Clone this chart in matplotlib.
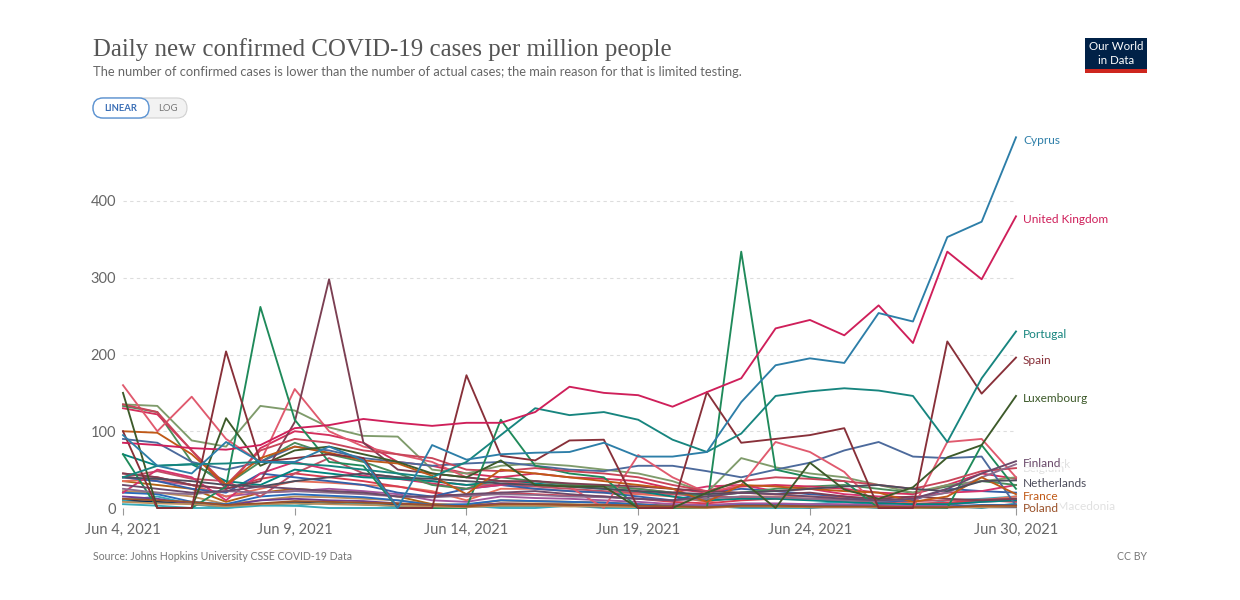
import matplotlib
matplotlib.use("Agg")
import matplotlib.pyplot as plt
from matplotlib.patches import FancyBboxPatch, Rectangle
import pandas as pd

# ---------------- data ----------------
dates = pd.date_range("2021-06-04", "2021-06-30", freq="D")
tick_dates = ["2021-06-04", "2021-06-09", "2021-06-14", "2021-06-19", "2021-06-24", "2021-06-30"]
tick_labels = ["Jun 4, 2021", "Jun 9, 2021", "Jun 14, 2021", "Jun 19, 2021", "Jun 24, 2021", "Jun 30, 2021"]
y_ticks = [0, 100, 200, 300, 400]

cyprus = [95, 55, 45, 86, 60, 60, 80, 62, 0, 82, 63, 70, 72, 73, 85, 67, 67, 73, 138, 186, 195, 189, 254, 243, 353, 373, 483]
united_kingdom = [85, 82, 78, 76, 82, 104, 108, 116, 111, 107, 111, 111, 125, 158, 150, 147, 132, 151, 169, 234, 245, 225, 264, 215, 334, 298, 380]
portugal = [40, 55, 57, 58, 60, 58, 55, 50, 45, 40, 60, 95, 130, 121, 125, 115, 89, 73, 97, 146, 152, 156, 153, 146, 86, 169, 230]
spain = [100, 0, 0, 204, 60, 65, 70, 65, 0, 0, 173, 68, 62, 88, 89, 0, 0, 151, 85, 90, 95, 104, 0, 0, 217, 149, 196]
luxembourg = [150, 0, 0, 117, 55, 75, 80, 70, 60, 45, 40, 62, 30, 28, 28, 0, 0, 20, 36, 0, 59, 24, 12, 27, 66, 82, 146]
finland = [30, 25, 20, 22, 28, 25, 22, 20, 15, 15, 18, 20, 22, 18, 15, 12, 10, 15, 20, 18, 15, 12, 10, 12, 25, 45, 61]
denmark = [25, 20, 18, 22, 20, 22, 20, 18, 15, 14, 16, 18, 17, 15, 14, 12, 10, 12, 15, 14, 12, 10, 9, 12, 20, 40, 57]
belgium = [135, 125, 75, 30, 75, 90, 85, 75, 70, 65, 50, 48, 52, 48, 45, 40, 30, 22, 35, 40, 38, 35, 30, 25, 35, 48, 52]
netherlands = [40, 38, 35, 30, 28, 35, 40, 45, 40, 38, 35, 32, 30, 28, 25, 22, 20, 18, 20, 22, 25, 28, 30, 25, 22, 35, 36]
france = [100, 98, 70, 30, 65, 80, 72, 62, 58, 42, 18, 50, 45, 40, 35, 30, 25, 8, 30, 28, 25, 22, 20, 8, 15, 40, 18]
poland = [12, 10, 8, 4, 6, 9, 8, 7, 6, 4, 2, 5, 5, 4, 4, 3, 2, 1, 3, 3, 2, 2, 2, 1, 1, 3, 3]
north_macedonia = [8, 6, 5, 2, 5, 6, 5, 4, 3, 2, 1, 3, 3, 2, 2, 1, 1, 0, 2, 2, 1, 1, 1, 0, 1, 1, 2]
sweden = [70, 0, 0, 28, 262, 115, 60, 55, 0, 0, 0, 115, 55, 45, 40, 0, 0, 0, 334, 50, 40, 35, 0, 0, 0, 82, 25]
lithuania = [45, 40, 30, 25, 35, 112, 298, 85, 50, 45, 40, 35, 35, 32, 30, 28, 25, 22, 20, 18, 20, 15, 12, 15, 12, 10, 12]
ireland = [160, 100, 145, 90, 60, 155, 100, 80, 70, 60, 40, 35, 30, 28, 0, 69, 40, 20, 30, 86, 73, 47, 0, 0, 86, 90, 40]
greece = [90, 85, 60, 50, 60, 80, 75, 65, 60, 55, 58, 60, 55, 50, 48, 55, 55, 48, 40, 50, 59, 75, 86, 67, 65, 67, 3]
switzerland = [135, 133, 88, 80, 133, 127, 105, 94, 93, 50, 45, 55, 58, 55, 50, 45, 35, 20, 65, 53, 45, 40, 30, 20, 30, 35, 40]
estonia = [133, 125, 60, 30, 60, 85, 70, 60, 45, 30, 25, 40, 35, 30, 28, 25, 20, 15, 20, 25, 28, 30, 25, 20, 28, 35, 30]
croatia = [130, 122, 75, 25, 78, 100, 95, 85, 60, 55, 45, 40, 45, 40, 38, 35, 25, 20, 28, 30, 28, 25, 20, 18, 30, 45, 38]
germany = [45, 40, 30, 25, 38, 45, 40, 35, 28, 20, 15, 20, 18, 16, 15, 12, 8, 6, 10, 12, 11, 10, 8, 5, 7, 10, 8]
italy = [35, 38, 30, 15, 25, 35, 33, 30, 28, 22, 10, 25, 25, 22, 20, 18, 15, 8, 15, 15, 15, 14, 12, 6, 6, 10, 15]
austria = [40, 48, 38, 35, 15, 45, 65, 45, 40, 35, 30, 30, 28, 25, 22, 20, 18, 15, 14, 13, 12, 11, 10, 9, 10, 11, 12]
czechia = [20, 18, 8, 5, 15, 18, 16, 14, 10, 4, 5, 10, 9, 8, 7, 5, 2, 2, 5, 5, 4, 4, 3, 1, 2, 4, 4]
latvia = [70, 55, 57, 35, 30, 50, 45, 40, 38, 35, 30, 35, 32, 28, 25, 22, 15, 10, 12, 12, 10, 8, 6, 5, 5, 8, 10]
slovenia = [40, 35, 30, 15, 20, 22, 25, 22, 18, 10, 8, 15, 13, 12, 10, 8, 5, 4, 6, 6, 5, 5, 4, 3, 4, 8, 10]
slovakia = [15, 12, 5, 3, 10, 12, 10, 9, 6, 3, 3, 6, 5, 4, 4, 3, 2, 1, 3, 3, 3, 2, 2, 1, 1, 2, 2]
hungary = [22, 20, 15, 5, 10, 15, 14, 12, 10, 5, 3, 6, 6, 5, 4, 4, 2, 1, 3, 2, 2, 2, 1, 1, 1, 2, 2]
bulgaria = [35, 30, 25, 8, 20, 25, 22, 20, 15, 5, 4, 10, 9, 8, 7, 5, 3, 2, 4, 4, 4, 3, 2, 1, 2, 3, 3]
romania = [10, 8, 6, 3, 5, 7, 6, 5, 4, 2, 2, 3, 3, 3, 2, 2, 1, 1, 2, 2, 1, 1, 1, 1, 1, 1, 1]
malta = [10, 15, 5, 0, 5, 3, 8, 5, 2, 0, 4, 2, 3, 5, 2, 0, 5, 2, 4, 2, 5, 8, 3, 2, 10, 12, 15]
norway = [40, 35, 25, 20, 45, 40, 35, 30, 20, 15, 25, 30, 25, 22, 20, 15, 10, 20, 25, 22, 18, 15, 8, 10, 25, 22, 20]
montenegro = [20, 50, 40, 10, 45, 60, 50, 42, 38, 32, 25, 30, 35, 30, 28, 25, 20, 28, 30, 22, 25, 18, 15, 14, 20, 22, 30]
iceland = [5, 3, 0, 0, 3, 3, 0, 0, 0, 0, 3, 0, 0, 3, 0, 0, 0, 3, 0, 0, 0, 3, 0, 0, 3, 0, 6]

# (name, values, colour, label mode)  label mode: "full", "faded", None
series = [
    ("Iceland", iceland, "#38aaba", None),
    ("Romania", romania, "#00295b", None),
    ("Malta", malta, "#38aaba", None),
    ("Hungary", hungary, "#bc8e5a", None),
    ("Slovakia", slovakia, "#6d3e91", None),
    ("Bulgaria", bulgaria, "#b16214", None),
    ("Czechia", czechia, "#286bbb", None),
    ("Slovenia", slovenia, "#a2559c", None),
    ("Italy", italy, "#e56e5a", None),
    ("Germany", germany, "#d73c50", None),
    ("Austria", austria, "#c15065", None),
    ("Norway", norway, "#3360a9", None),
    ("Montenegro", montenegro, "#d6336c", None),
    ("Latvia", latvia, "#00847e", None),
    ("Estonia", estonia, "#4b8b5a", None),
    ("Croatia", croatia, "#d42f5c", None),
    ("Switzerland", switzerland, "#7f9b6b", None),
    ("Greece", greece, "#4c6a9c", None),
    ("Ireland", ireland, "#e05a6e", None),
    ("Lithuania", lithuania, "#7b3f52", None),
    ("Sweden", sweden, "#1f8a5a", None),
    ("North Macedonia", north_macedonia, "#bc8e5a", "faded"),
    ("Belgium", belgium, "#c8455a", "faded"),
    ("Denmark", denmark, "#8c6d8c", "faded"),
    ("Poland", poland, "#9a5129", "full"),
    ("France", france, "#c05917", "full"),
    ("Netherlands", netherlands, "#4d4d5c", "full"),
    ("Finland", finland, "#6b4a6b", "full"),
    ("Luxembourg", luxembourg, "#3d5a2a", "full"),
    ("Spain", spain, "#883039", "full"),
    ("Portugal", portugal, "#17857f", "full"),
    ("United Kingdom", united_kingdom, "#cf1f5a", "full"),
    ("Cyprus", cyprus, "#2d7ea8", "full"),
]

# ---------------- figure ----------------
W, H = 1240, 600
fig = plt.figure(figsize=(W / 100, H / 100), dpi=100)
fig.patch.set_facecolor("white")

# overlay axes in pixel coordinates for header/footer decorations
ov = fig.add_axes([0, 0, 1, 1], zorder=0)
ov.set_xlim(0, W)
ov.set_ylim(H, 0)
ov.axis("off")

x0, x1, y0, y1 = 123, 1016, 508, 130
ax = fig.add_axes([x0 / W, 1 - y0 / H, (x1 - x0) / W, (y0 - y1) / H], zorder=2)
ax.patch.set_alpha(0)
ymax = (y0 - y1) / 0.7675
ax.set_ylim(0, ymax)
ax.set_xlim(dates[0], dates[-1])

for name, vals, col, mode in series:
    ax.plot(dates, vals, color=col, lw=1.35, clip_on=False, zorder=3)

# end labels (faded ones sit behind the highlighted ones, as in the original)
for name, vals, col, mode in series:
    if mode == "faded":
        ax.annotate(name, xy=(dates[-1], vals[-1]), xytext=(5, 0), textcoords="offset points",
                    va="center", ha="left", fontsize=8.6, family="Lato", color="#c8c8c8",
                    alpha=0.55, annotation_clip=False, zorder=4)
for name, vals, col, mode in series:
    if mode == "full":
        ax.annotate(name, xy=(dates[-1], vals[-1]), xytext=(5, -2), textcoords="offset points",
                    va="center", ha="left", fontsize=8.6, family="Lato", color=col,
                    annotation_clip=False, zorder=5,
                    bbox=dict(boxstyle="square,pad=0.05", facecolor="white", edgecolor="none", alpha=0.75))

# axes styling
for s in ax.spines.values():
    s.set_visible(False)
ax.set_yticks(y_ticks)
ax.set_yticklabels([str(v) for v in y_ticks], family="Lato", fontsize=10.5, color="#666666")
ax.tick_params(axis="y", length=0, pad=5)
ax.grid(axis="y", color="#dddddd", linestyle=(0, (3, 3)), lw=0.8)
ax.axhline(0, color="#cccccc", lw=0.8, zorder=1)
ax.set_axisbelow(True)

ax.set_xticks(pd.to_datetime(tick_dates))
ax.set_xticklabels(tick_labels, family="Lato", fontsize=10.5, color="#666666")
ax.tick_params(axis="x", length=5, color="#999999", pad=6)

# title & subtitle
ov.text(93, 50, "Daily new confirmed COVID-19 cases per million people",
        family="Liberation Serif", fontsize=17.9, color="#555555", va="center", ha="left")
ov.text(93, 72, "The number of confirmed cases is lower than the number of actual cases; the main reason for that is limited testing.",
        family="Lato", fontsize=9.3, color="#666666", va="center", ha="left")

# LINEAR / LOG toggle
ov.add_patch(FancyBboxPatch((93, 98), 94, 20, boxstyle="round,pad=0,rounding_size=10",
                            facecolor="#f2f2f2", edgecolor="#d0d0d0", lw=0.8))
ov.add_patch(FancyBboxPatch((93, 98), 56, 20, boxstyle="round,pad=0,rounding_size=10",
                            facecolor="white", edgecolor="#5b93d3", lw=1.0))
ov.text(121, 108.5, "LINEAR", family="Lato", fontsize=6.8, color="#3b6fb6",
        va="center", ha="center", weight="bold")
ov.text(168, 108.5, "LOG", family="Lato", fontsize=6.8, color="#777777",
        va="center", ha="center")

# OWID logo
ov.add_patch(Rectangle((1085, 38), 62, 35, facecolor="#002147", edgecolor="none"))
ov.add_patch(Rectangle((1085, 69), 62, 4, facecolor="#ce261e", edgecolor="none"))
ov.text(1116, 47, "Our World", family="Lato", fontsize=8.3, color="white", va="center", ha="center")
ov.text(1116, 60, "in Data", family="Lato", fontsize=8.3, color="white", va="center", ha="center")

# footer
ov.text(93, 557, "Source: Johns Hopkins University CSSE COVID-19 Data",
        family="Lato", fontsize=7.6, color="#777777", va="center", ha="left")
ov.text(1147, 557, "CC BY", family="Lato", fontsize=7.6, color="#777777", va="center", ha="right")

fig.savefig("out.png", dpi=100, facecolor="white")
